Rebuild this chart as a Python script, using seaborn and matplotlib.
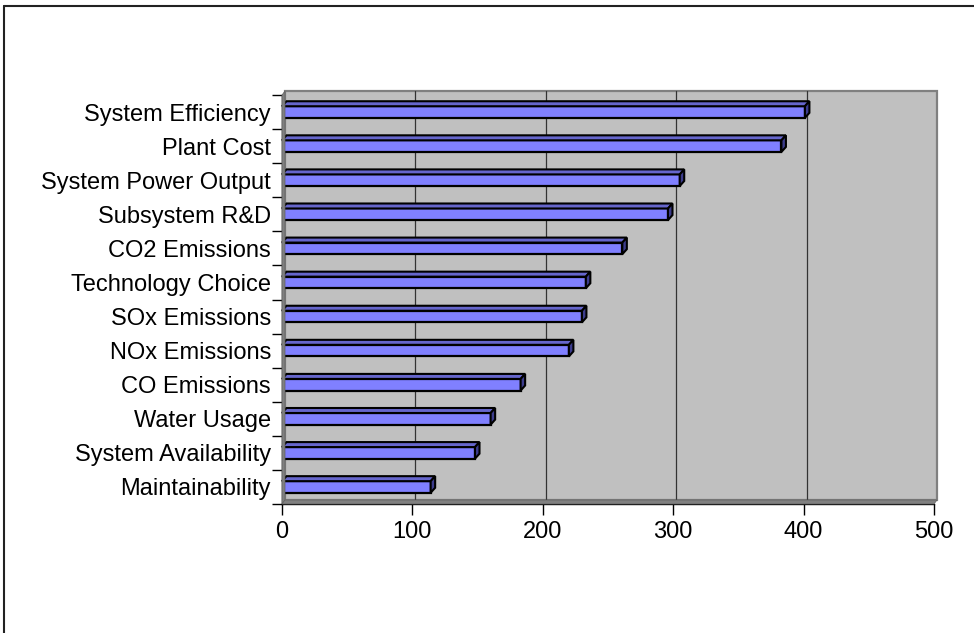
import matplotlib
matplotlib.use("Agg")
import matplotlib.pyplot as plt
from matplotlib import transforms
from matplotlib.patches import Polygon, Rectangle
from matplotlib.lines import Line2D
import seaborn as sns
import pandas as pd

# Ranked criteria and their scores
categories = [
    "System Efficiency", "Plant Cost", "System Power Output", "Subsystem R&D",
    "CO2 Emissions", "Technology Choice", "SOx Emissions", "NOx Emissions",
    "CO Emissions", "Water Usage", "System Availability", "Maintainability",
]
scores = [401, 383, 305, 296, 261, 233, 230, 220, 183, 160, 148, 114]
x_ticks = [0, 100, 200, 300, 400, 500]

df = pd.DataFrame({"criterion": categories, "score": scores})

sns.set_theme(style="white")
plt.rcParams["font.family"] = ["Liberation Sans", "DejaVu Sans"]

W, H, DPI = 974, 633, 100
fig = plt.figure(figsize=(W / DPI, H / DPI), dpi=DPI)
fig.patch.set_facecolor("white")

# front plane of the plot area (pixels: x 282..934, y 95..504)
left, right, top, bottom = 282, 934, 95, 504
ax = fig.add_axes([left / W, 1 - bottom / H, (right - left) / W, (bottom - top) / H])
ax.set_facecolor("none")

sns.barplot(data=df, y="criterion", x="score", orient="h", ax=ax,
            color="#8080FF", saturation=1, width=0.34,
            edgecolor="black", linewidth=1.6, zorder=3)

n = len(categories)
ax.set_xlim(0, 500)
ax.set_ylim(n - 0.5, -0.5)

# back wall with its gridlines, pushed back into depth
wall_shift = transforms.ScaledTranslation(3 / DPI, 4 / DPI, fig.dpi_scale_trans)
wall = Rectangle((0, 0), 1, 1, transform=ax.transAxes + wall_shift,
                 facecolor="#C0C0C0", edgecolor="#808080", linewidth=1.6,
                 zorder=0.5, clip_on=False)
ax.add_patch(wall)

grid_tr = transforms.blended_transform_factory(ax.transData, ax.transAxes) + wall_shift
for v in x_ticks[1:-1]:
    ax.add_line(Line2D([v, v], [0, 1], transform=grid_tr, color="#333333",
                       linewidth=0.9, zorder=0.6, clip_on=False))

# left side wall and floor joining the front plane to the back wall
fig.canvas.draw()
def disp(ax_pt, shift=False):
    p = ax.transAxes.transform(ax_pt)
    if shift:
        p = p + [3, 4]
    return p
side = Polygon([disp((0, 0)), disp((0, 1)), disp((0, 1), True), disp((0, 0), True)],
               closed=True, transform=None, facecolor="#808080",
               edgecolor="#606060", linewidth=0.5, zorder=0.7)
floor = Polygon([disp((0, 0)), disp((1, 0)), disp((1, 0), True), disp((0, 0), True)],
                closed=True, transform=None, facecolor="#808080",
                edgecolor="#606060", linewidth=0.5, zorder=0.7)
fig.add_artist(side)
fig.add_artist(floor)

# depth faces of each bar (top and end), in data units
x_per_px = 500 / (right - left)
y_per_px = n / (bottom - top)
dx, dy = 4.5 * x_per_px, 5 * y_per_px
for patch, val in zip(ax.patches, scores):
    y_t = patch.get_y()
    y_b = y_t + patch.get_height()
    x1 = val
    top_face = Polygon([(0, y_t), (x1, y_t), (x1 + dx, y_t - dy), (dx, y_t - dy)],
                       closed=True, facecolor="#6666CC", edgecolor="black",
                       linewidth=1.5, zorder=3, clip_on=False)
    end_face = Polygon([(x1, y_t), (x1, y_b), (x1 + dx, y_b - dy), (x1 + dx, y_t - dy)],
                       closed=True, facecolor="#3C3C8C", edgecolor="black",
                       linewidth=1.5, zorder=3, clip_on=False)
    ax.add_patch(top_face)
    ax.add_patch(end_face)

# axes styling
for side_name in ("top", "right"):
    ax.spines[side_name].set_visible(False)
for side_name in ("left", "bottom"):
    ax.spines[side_name].set_color("black")
    ax.spines[side_name].set_linewidth(1.0)
    ax.spines[side_name].set_zorder(4)

ax.set_xticks(x_ticks)
ax.set_xticklabels([str(t) for t in x_ticks])
ax.set_yticks([i - 0.5 for i in range(n + 1)], minor=False)
ax.set_yticklabels([])
ax.set_yticks(list(range(n)), minor=True)
ax.set_yticklabels(categories, minor=True)
ax.tick_params(axis="y", which="major", length=7, width=1, color="black", direction="out", left=True)
ax.tick_params(axis="y", which="minor", length=0, pad=8, labelsize=17, labelcolor="black")
ax.tick_params(axis="x", which="major", length=8, width=1, color="black", direction="out",
               bottom=True, pad=4, labelsize=17, labelcolor="black")
ax.set_xlabel("")
ax.set_ylabel("")
ax.grid(False)

# chart border
fig.add_artist(Line2D([4 / W, 4 / W], [0, 1 - 6 / H], transform=fig.transFigure,
                      color="#222222", linewidth=1.5))
fig.add_artist(Line2D([4 / W, 1], [1 - 6 / H, 1 - 6 / H], transform=fig.transFigure,
                      color="#222222", linewidth=1.5))

fig.savefig("out.png", dpi=DPI)
